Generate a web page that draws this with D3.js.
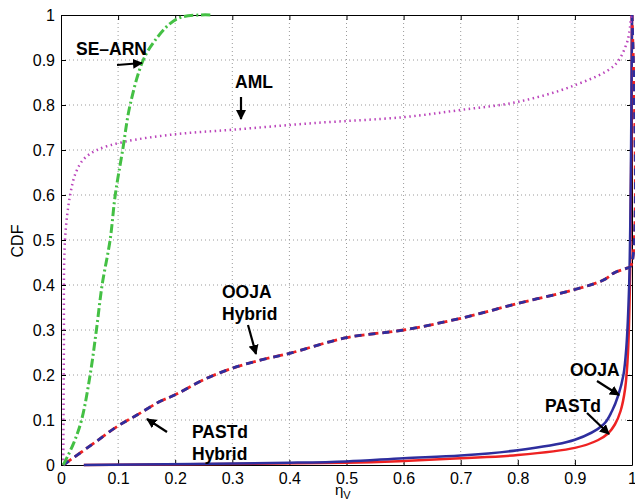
<!DOCTYPE html>
<html>
<head>
<meta charset="utf-8">
<script src="https://cdn.jsdelivr.net/npm/d3@7"></script>
<style>
  body { margin: 0; background: #fff; }
  text { font-family: "Liberation Sans", Arial, sans-serif; }
</style>
</head>
<body>
<div id="chart"></div>
<script>
// CDF of eta_V for the different trackers

var ticks = [0, 0.1, 0.2, 0.3, 0.4, 0.5, 0.6, 0.7, 0.8, 0.9, 1];
var tickLabels = ["0", "0.1", "0.2", "0.3", "0.4", "0.5", "0.6", "0.7", "0.8", "0.9", "1"];

// SE-ARN (green dash-dot)
var searnX = [0.004, 0.022, 0.036, 0.051, 0.062, 0.072, 0.086, 0.095, 0.108, 0.121, 0.144, 0.165, 0.191, 0.21, 0.243, 0.266];
var searnY = [0, 0.048, 0.1, 0.2, 0.3, 0.4, 0.5, 0.6, 0.7, 0.8, 0.9, 0.944, 0.981, 0.995, 1.0, 1.0];

// AML (magenta dotted)
var amlX = [0.004, 0.005, 0.007, 0.016, 0.026, 0.04, 0.063, 0.11, 0.2, 0.3, 0.445, 0.6, 0.7, 0.8, 0.9, 0.97, 0.991, 0.995, 0.999];
var amlY = [0, 0.25, 0.5, 0.6, 0.65, 0.68, 0.7, 0.718, 0.735, 0.745, 0.76, 0.773, 0.789, 0.807, 0.844, 0.889, 0.938, 0.96, 1.0];

// OOJA Hybrid / PASTd Hybrid (dashed, nearly identical)
var hybX = [0.004, 0.057, 0.1, 0.133, 0.173, 0.2, 0.249, 0.3, 0.349, 0.4, 0.5, 0.6, 0.7, 0.8, 0.9, 0.95, 0.97, 0.99, 0.998, 1.0];
var hybY = [0, 0.048, 0.087, 0.111, 0.141, 0.156, 0.189, 0.215, 0.233, 0.248, 0.283, 0.30, 0.326, 0.359, 0.39, 0.411, 0.428, 0.437, 0.442, 1.0];

// OOJA (solid blue)
var oojaX = [0.04, 0.4, 0.5, 0.6, 0.7, 0.8, 0.9, 0.95, 0.965, 0.976, 0.985, 0.99, 0.995, 0.998, 1.0];
var oojaY = [0, 0.005, 0.008, 0.015, 0.021, 0.033, 0.056, 0.09, 0.12, 0.155, 0.2, 0.26, 0.4, 0.65, 1.0];

// PASTd (solid red)
var pastdX = [0.04, 0.5, 0.6, 0.7, 0.8, 0.9, 0.94, 0.958, 0.97, 0.98, 0.988, 0.993, 0.997, 1.0];
var pastdY = [0, 0.005, 0.009, 0.015, 0.022, 0.038, 0.055, 0.07, 0.09, 0.12, 0.17, 0.25, 0.45, 1.0];

var W = 635, H = 502;
var margin = {left: 61, top: 15, right: 3, bottom: 37};
var w = W - margin.left - margin.right;
var h = H - margin.top - margin.bottom;

var svg = d3.select("#chart").append("svg")
   .attr("width", W)
   .attr("height", H);

var defs = svg.append("defs");
defs.append("clipPath").attr("id", "clip")
   .append("rect").attr("x", -2).attr("y", -2).attr("width", w + 5).attr("height", h + 4);
defs.append("marker")
   .attr("id", "arrow")
   .attr("viewBox", "0 0 10 10")
   .attr("refX", 9).attr("refY", 5)
   .attr("markerWidth", 10).attr("markerHeight", 10)
   .attr("markerUnits", "userSpaceOnUse")
   .attr("orient", "auto")
   .append("path").attr("d", "M0,0 L10,5 L0,10 z").attr("fill", "#000");

var g = svg.append("g").attr("transform", "translate(" + margin.left + "," + margin.top + ")");

var x = d3.scaleLinear().domain([0, 1]).range([0, w]);
var y = d3.scaleLinear().domain([0, 1]).range([h, 0]);

// dotted grid
g.append("g").selectAll("line").data(ticks.slice(1, -1)).enter().append("line")
   .attr("x1", d => x(d)).attr("x2", d => x(d)).attr("y1", 0).attr("y2", h)
   .attr("stroke", "#9a9a9a").attr("stroke-width", 1).attr("stroke-dasharray", "1,3");
g.append("g").selectAll("line").data(ticks.slice(1, -1)).enter().append("line")
   .attr("y1", d => y(d)).attr("y2", d => y(d)).attr("x1", 0).attr("x2", w)
   .attr("stroke", "#9a9a9a").attr("stroke-width", 1).attr("stroke-dasharray", "1,3");

// axes with inside ticks, box on
var xAxis = g.append("g").attr("transform", "translate(0," + h + ")")
   .call(d3.axisBottom(x).tickValues(ticks).tickFormat((d, i) => tickLabels[i]).tickSizeInner(-5).tickSizeOuter(0).tickPadding(8));
var yAxis = g.append("g")
   .call(d3.axisLeft(y).tickValues(ticks).tickFormat((d, i) => tickLabels[i]).tickSizeInner(-5).tickSizeOuter(0).tickPadding(6));
var xTop = g.append("g")
   .call(d3.axisTop(x).tickValues(ticks).tickFormat("").tickSizeInner(-5).tickSizeOuter(0));
var yRight = g.append("g").attr("transform", "translate(" + w + ",0)")
   .call(d3.axisRight(y).tickValues(ticks).tickFormat("").tickSizeInner(-5).tickSizeOuter(0));

[xAxis, yAxis, xTop, yRight].forEach(a => {
   a.selectAll("path").attr("stroke", "#000").attr("stroke-width", 1);
   a.selectAll("line").attr("stroke", "#000");
   a.selectAll("text").attr("font-size", 16).attr("fill", "#000")
      .style("font-family", "Liberation Sans, Arial, sans-serif");
});

function zip(xs, ys) {
   return xs.map((v, i) => [v, ys[i]]);
}

var line = d3.line()
   .x(d => x(d[0]))
   .y(d => y(d[1]))
   .curve(d3.curveCatmullRom.alpha(0.5));

var curves = g.append("g").attr("clip-path", "url(#clip)");

curves.append("path").datum(zip(pastdX, pastdY))
   .attr("d", line).attr("fill", "none").attr("stroke", "#ee2222").attr("stroke-width", 2.5);
curves.append("path").datum(zip(oojaX, oojaY))
   .attr("d", line).attr("fill", "none").attr("stroke", "#2e2e9e").attr("stroke-width", 2.5);

curves.append("path").datum(zip(hybX, hybY))
   .attr("d", line).attr("fill", "none").attr("stroke", "#ee2222").attr("stroke-width", 2.8)
   .attr("stroke-dasharray", "10,4");
curves.append("path").datum(zip(hybX, hybY))
   .attr("d", line).attr("fill", "none").attr("stroke", "#2e2e9e").attr("stroke-width", 2.8)
   .attr("stroke-dasharray", "7,7");

curves.append("path").datum(zip(amlX, amlY))
   .attr("d", line).attr("fill", "none").attr("stroke", "#bb44bb").attr("stroke-width", 2.5)
   .attr("stroke-dasharray", "1.5,3.5");

curves.append("path").datum(zip(searnX, searnY))
   .attr("d", line).attr("fill", "none").attr("stroke", "#44c044").attr("stroke-width", 3)
   .attr("stroke-dasharray", "9,3,2,3");

// annotations
var notes = [
   {lines: ["SE\u2013ARN"], x: 76, y: 55, ax: [117, 65, 142, 63]},
   {lines: ["AML"], x: 235, y: 88, ax: [241, 97, 241, 119]},
   {lines: ["OOJA", "Hybrid"], x: 222, y: 298, ax: [248, 325, 256, 354]},
   {lines: ["PASTd", "Hybrid"], x: 192, y: 438, ax: [167, 432, 147, 419]},
   {lines: ["OOJA"], x: 570, y: 376, ax: [597, 381, 619, 395]},
   {lines: ["PASTd"], x: 545, y: 412, ax: [587, 413, 609, 434]}
];

notes.forEach(n => {
   var t = svg.append("text")
      .attr("x", n.x).attr("y", n.y)
      .attr("font-size", 17.5).attr("font-weight", "bold").attr("fill", "#000");
   n.lines.forEach((s, i) => {
      t.append("tspan").attr("x", n.x).attr("dy", i == 0 ? 0 : 22).text(s);
   });
   svg.append("line")
      .attr("x1", n.ax[0]).attr("y1", n.ax[1]).attr("x2", n.ax[2]).attr("y2", n.ax[3])
      .attr("stroke", "#000").attr("stroke-width", 2.2)
      .attr("marker-end", "url(#arrow)");
});

// axis labels
svg.append("text")
   .attr("transform", "translate(23,241) rotate(-90)")
   .attr("text-anchor", "middle")
   .attr("font-size", 16).attr("fill", "#000")
   .text("CDF");

var xl = svg.append("text")
   .attr("x", 335).attr("y", 495)
   .attr("font-size", 15).attr("fill", "#000");
xl.append("tspan").text("\u03B7");
xl.append("tspan").attr("font-size", 11).attr("dy", 4).text("V");
</script>
</body>
</html>
